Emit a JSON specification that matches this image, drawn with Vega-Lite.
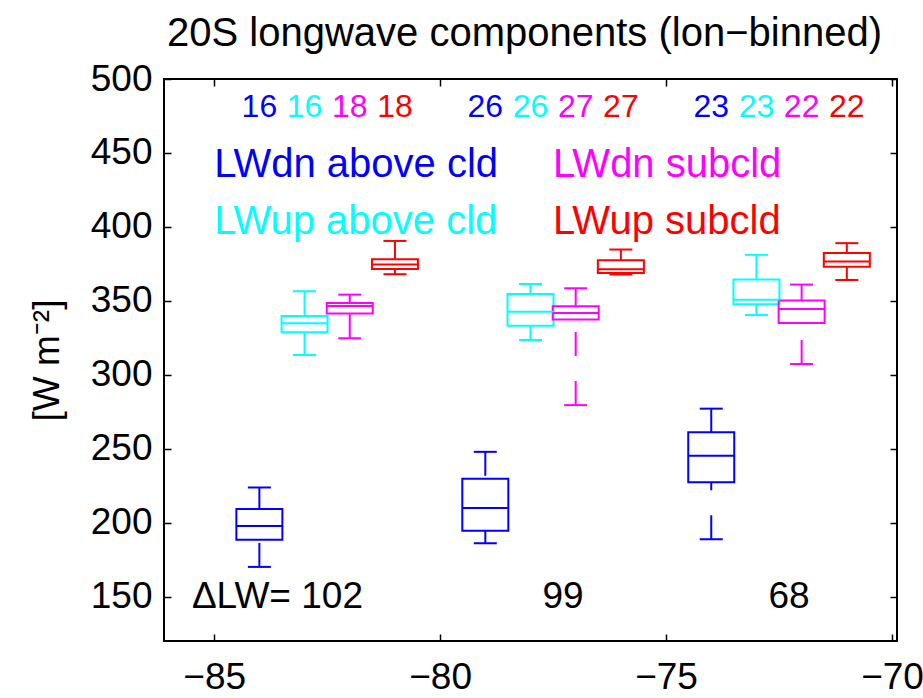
{
  "$schema": "https://vega.github.io/schema/vega-lite/v6.json",
  "width": 733,
  "height": 562,
  "autosize": "none",
  "padding": {"left": 164, "top": 79, "right": 26, "bottom": 57},
  "background": "white",
  "title": {"text": "20S longwave components (lon−binned)", "fontSize": 40, "font": "Liberation Sans", "fontWeight": "normal", "color": "black", "anchor": "middle", "baseline": "alphabetic", "offset": 32, "dy": 58, "dx": -6},
  "datasets": {
    "boxes": [
      {"lon": -84, "series": "LWdn above cld", "lo": 170.1, "q1": 188.4, "med": 197.8, "q3": 209.3, "hi": 223.8, "n": 16},
      {"lon": -83, "series": "LWup above cld", "lo": 313.4, "q1": 328.7, "med": 334.8, "q3": 339.8, "hi": 356.5, "n": 16},
      {"lon": -82, "series": "LWdn subcld", "lo": 324.7, "q1": 341.4, "med": 346.5, "q3": 348.6, "hi": 354.2, "n": 18},
      {"lon": -81, "series": "LWup subcld", "lo": 368.0, "q1": 371.6, "med": 374.6, "q3": 378.1, "hi": 390.5, "n": 18},
      {"lon": -79, "series": "LWdn above cld", "lo": 186.1, "q1": 194.5, "med": 210.0, "q3": 229.7, "hi": 247.9, "n": 26},
      {"lon": -78, "series": "LWup above cld", "lo": 323.5, "q1": 333.2, "med": 342.7, "q3": 354.7, "hi": 361.4, "n": 26},
      {"lon": -77, "series": "LWdn subcld", "lo": 279.5, "q1": 337.3, "med": 341.8, "q3": 346.3, "hi": 358.5, "n": 27},
      {"lon": -76, "series": "LWup subcld", "lo": 367.8, "q1": 368.9, "med": 371.4, "q3": 377.5, "hi": 384.7, "n": 27},
      {"lon": -74, "series": "LWdn above cld", "lo": 188.8, "q1": 227.4, "med": 245.2, "q3": 261.2, "hi": 277.1, "n": 23},
      {"lon": -73, "series": "LWup above cld", "lo": 340.4, "q1": 347.7, "med": 350.8, "q3": 364.4, "hi": 381.1, "n": 23},
      {"lon": -72, "series": "LWdn subcld", "lo": 307.3, "q1": 335.0, "med": 344.5, "q3": 350.2, "hi": 361.0, "n": 22},
      {"lon": -71, "series": "LWup subcld", "lo": 364.1, "q1": 373.0, "med": 376.6, "q3": 382.4, "hi": 389.0, "n": 22}
    ],
    "legend": [
      {"lon": -85, "val": 433.5, "series": "LWdn above cld"},
      {"lon": -85, "val": 395.5, "series": "LWup above cld"},
      {"lon": -77.5, "val": 433.5, "series": "LWdn subcld"},
      {"lon": -77.5, "val": 395.5, "series": "LWup subcld"}
    ],
    "delta": [
      {"lon": -83.6, "val": 150, "label": "ΔLW= 102"},
      {"lon": -77.28, "val": 150, "label": "99"},
      {"lon": -72.28, "val": 150, "label": "68"}
    ]
  },
  "resolve": {"axis": {"x": "independent", "y": "independent"}},
  "layer": [
    {
      "data": {"name": "boxes"},
      "mark": {"type": "rule", "strokeWidth": 2, "strokeDash": [24, 25]},
      "encoding": {
        "x": {"field": "lon", "type": "quantitative", "scale": {"domain": [-86, -70], "nice": false, "zero": false},
              "axis": {"orient": "bottom", "values": [-85, -80, -75, -70], "title": null}},
        "y": {"field": "lo", "type": "quantitative", "scale": {"domain": [120, 500], "nice": false, "zero": false},
              "axis": {"orient": "left", "values": [150, 200, 250, 300, 350, 400, 450, 500], "title": "[W m⁻²]", "titleX": -106, "titleY": 281, "titleAngle": -90, "titleAlign": "center", "titleBaseline": "alphabetic"}},
        "y2": {"field": "q1"},
        "color": {"field": "series", "type": "nominal", "legend": null,
                  "scale": {"domain": ["LWdn above cld", "LWup above cld", "LWdn subcld", "LWup subcld"], "range": ["#0000ff", "#00ffff", "#ff00ff", "#ff0000"]}}
      }
    },
    {
      "data": {"name": "boxes"},
      "mark": {"type": "rule", "strokeWidth": 2, "strokeDash": [24, 25]},
      "encoding": {
        "x": {"field": "lon", "type": "quantitative", "axis": null},
        "y": {"field": "hi", "type": "quantitative", "axis": null},
        "y2": {"field": "q3"},
        "color": {"field": "series", "type": "nominal", "legend": null}
      }
    },
    {
      "data": {"name": "boxes"},
      "mark": {"type": "bar", "filled": false, "strokeWidth": 2, "width": 46},
      "encoding": {
        "x": {"field": "lon", "type": "quantitative", "axis": null},
        "y": {"field": "q1", "type": "quantitative", "axis": null},
        "y2": {"field": "q3"},
        "color": {"field": "series", "type": "nominal", "legend": null}
      }
    },
    {
      "data": {"name": "boxes"},
      "mark": {"type": "tick", "orient": "horizontal", "size": 46, "thickness": 2, "opacity": 1},
      "encoding": {
        "x": {"field": "lon", "type": "quantitative",
              "axis": {"orient": "top", "values": [-85, -80, -75, -70], "labels": false, "title": null}},
        "y": {"field": "med", "type": "quantitative",
              "axis": {"orient": "right", "values": [150, 200, 250, 300, 350, 400, 450, 500], "labels": false, "title": null}},
        "color": {"field": "series", "type": "nominal", "legend": null}
      }
    },
    {
      "data": {"name": "boxes"},
      "mark": {"type": "tick", "orient": "horizontal", "size": 23, "thickness": 2, "opacity": 1},
      "encoding": {
        "x": {"field": "lon", "type": "quantitative", "axis": null},
        "y": {"field": "lo", "type": "quantitative", "axis": null},
        "color": {"field": "series", "type": "nominal", "legend": null}
      }
    },
    {
      "data": {"name": "boxes"},
      "mark": {"type": "tick", "orient": "horizontal", "size": 23, "thickness": 2, "opacity": 1},
      "encoding": {
        "x": {"field": "lon", "type": "quantitative", "axis": null},
        "y": {"field": "hi", "type": "quantitative", "axis": null},
        "color": {"field": "series", "type": "nominal", "legend": null}
      }
    },
    {
      "data": {"name": "boxes"},
      "mark": {"type": "text", "font": "Liberation Sans", "fontSize": 32, "align": "center", "baseline": "alphabetic"},
      "encoding": {
        "x": {"field": "lon", "type": "quantitative", "axis": null},
        "y": {"datum": 474.1, "type": "quantitative", "axis": null},
        "text": {"field": "n", "type": "quantitative"},
        "color": {"field": "series", "type": "nominal", "legend": null}
      }
    },
    {
      "data": {"name": "legend"},
      "mark": {"type": "text", "font": "Liberation Sans", "fontSize": 40, "align": "left", "baseline": "alphabetic"},
      "encoding": {
        "x": {"field": "lon", "type": "quantitative", "axis": null},
        "y": {"field": "val", "type": "quantitative", "axis": null},
        "text": {"field": "series", "type": "nominal"},
        "color": {"field": "series", "type": "nominal", "legend": null}
      }
    },
    {
      "data": {"name": "delta"},
      "mark": {"type": "text", "font": "Liberation Sans", "fontSize": 37, "align": "center", "baseline": "middle", "color": "black"},
      "encoding": {
        "x": {"field": "lon", "type": "quantitative", "axis": null},
        "y": {"field": "val", "type": "quantitative", "axis": null},
        "text": {"field": "label", "type": "nominal"}
      }
    }
  ],
  "config": {
    "view": {"stroke": "black", "strokeWidth": 2},
    "axis": {
      "labelFont": "Liberation Sans", "labelFontSize": 37, "labelColor": "black",
      "titleFont": "Liberation Sans", "titleFontSize": 37, "titleFontWeight": "normal", "titleColor": "black",
      "tickColor": "black", "tickWidth": 1.5, "tickSize": -7, "domain": false, "grid": false,
      "labelOverlap": false, "labelFlush": false, "labelBound": false
    },
    "axisX": {"labelPadding": 25, "labelDx": -12},
    "axisY": {"labelPadding": 19}
  }
}
